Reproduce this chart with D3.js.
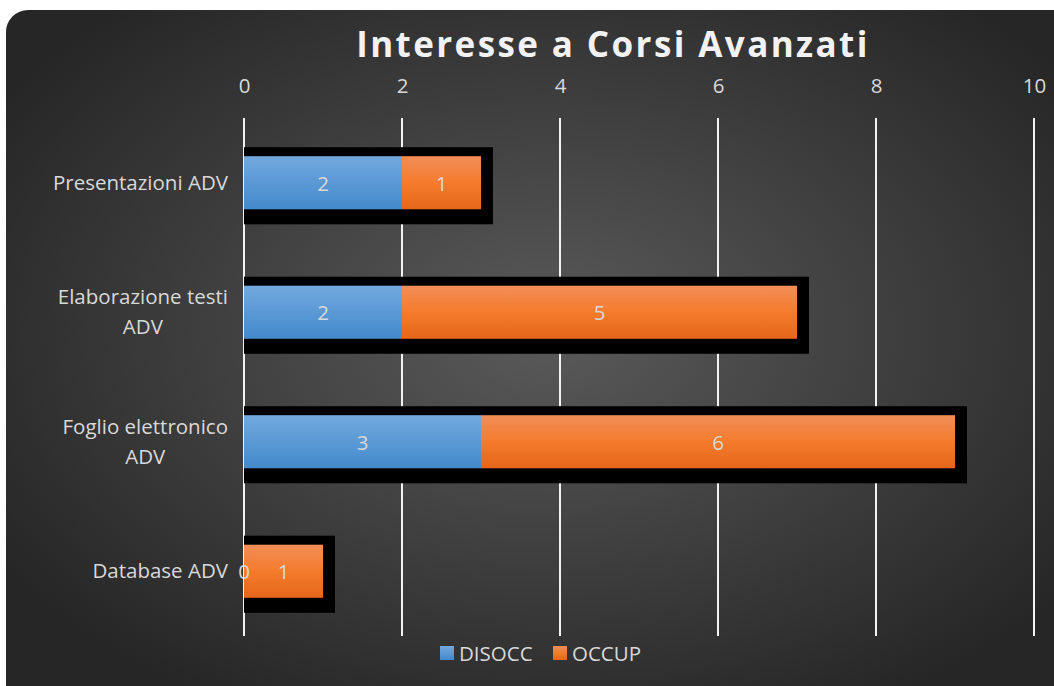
<!DOCTYPE html>
<html><head><meta charset="utf-8">
<script src="https://cdn.jsdelivr.net/npm/d3@7"></script>
<style>body{margin:0;background:#fff}svg{display:block}</style>
</head><body>
<script>
const categories = ["Presentazioni ADV", "Elaborazione testi ADV", "Foglio elettronico ADV", "Database ADV"];
const catLines = [["Presentazioni ADV"], ["Elaborazione testi", "ADV"], ["Foglio elettronico", "ADV"], ["Database ADV"]];
const disocc = [2, 2, 3, 0];
const occup = [1, 5, 6, 1];
const tickValues = [0, 2, 4, 6, 8, 10];
const seriesNames = ["DISOCC", "OCCUP"];

const W = 1054, H = 686;
const FONT = "Open Sans, sans-serif";
const FS = 20.5;
const svg = d3.select("body").append("svg").attr("width", W).attr("height", H);
const defs = svg.append("defs");
const bg = defs.append("radialGradient").attr("id", "bg").attr("cx", "50%").attr("cy", "45%").attr("r", "60%");
bg.append("stop").attr("offset", "0%").attr("stop-color", "#5a5a5a");
bg.append("stop").attr("offset", "100%").attr("stop-color", "#262626");
const gb = defs.append("linearGradient").attr("id", "gblue").attr("x1", 0).attr("y1", 0).attr("x2", 0).attr("y2", 1);
gb.append("stop").attr("offset", "0%").attr("stop-color", "#72a9df");
gb.append("stop").attr("offset", "100%").attr("stop-color", "#4389cb");
const go = defs.append("linearGradient").attr("id", "gorange").attr("x1", 0).attr("y1", 0).attr("x2", 0).attr("y2", 1);
go.append("stop").attr("offset", "0%").attr("stop-color", "#f28e59");
go.append("stop").attr("offset", "50%").attr("stop-color", "#f47b2c");
go.append("stop").attr("offset", "100%").attr("stop-color", "#e5661a");

svg.append("rect").attr("x", 6).attr("y", 10).attr("width", W + 30).attr("height", H + 30)
  .attr("rx", 22).attr("fill", "url(#bg)");

const x = d3.scaleLinear().domain([0, 10]).range([244, 1034]);
const y = d3.scaleBand().domain(categories).range([118, 636]).paddingInner(0.59).paddingOuter(0.295);

// gridlines
svg.append("g").selectAll("line").data(tickValues).join("line")
  .attr("x1", d => x(d)).attr("x2", d => x(d)).attr("y1", 118).attr("y2", 636)
  .attr("stroke", "#f2f2f2").attr("stroke-width", 2);

// top axis
const axis = d3.axisTop(x).tickValues(tickValues).tickSize(0).tickPadding(0);
const ag = svg.append("g").attr("transform", "translate(0,93)").call(axis);
ag.select(".domain").remove();
ag.selectAll("text").attr("fill", "#d9d9d9").attr("font-size", FS).attr("font-family", FONT);

// shadows
const totals = categories.map((c, i) => disocc[i] + occup[i]);
svg.append("g").selectAll("rect").data(categories).join("rect")
  .attr("x", x(0)).attr("y", d => y(d) - 9)
  .attr("width", (d, i) => x(totals[i]) - x(0) + 12)
  .attr("height", y.bandwidth() + 24).attr("fill", "#000");

// bars
const bh = y.bandwidth();
svg.append("g").selectAll("rect").data(categories).join("rect")
  .attr("x", x(0)).attr("y", d => y(d))
  .attr("width", (d, i) => x(disocc[i]) - x(0)).attr("height", bh).attr("fill", "url(#gblue)");
svg.append("g").selectAll("rect").data(categories).join("rect")
  .attr("x", (d, i) => x(disocc[i])).attr("y", d => y(d))
  .attr("width", (d, i) => x(disocc[i] + occup[i]) - x(disocc[i])).attr("height", bh).attr("fill", "url(#gorange)");

// data labels
const lblStyle = s => s.attr("fill", "#d9d9d9").attr("font-size", FS).attr("font-family", FONT)
  .attr("text-anchor", "middle").attr("dominant-baseline", "central");
svg.append("g").selectAll("text").data(categories).join("text")
  .attr("x", (d, i) => (x(0) + x(disocc[i])) / 2).attr("y", d => y(d) + bh / 2)
  .text((d, i) => disocc[i]).call(lblStyle);
svg.append("g").selectAll("text").data(categories).join("text")
  .attr("x", (d, i) => (x(disocc[i]) + x(disocc[i] + occup[i])) / 2).attr("y", d => y(d) + bh / 2)
  .text((d, i) => occup[i]).call(lblStyle);

// category labels
const cg = svg.append("g");
categories.forEach((d, i) => {
  const lines = catLines[i];
  const texts = lines.map((ln, k) => cg.append("text")
    .attr("y", y(d) + bh / 2 + (k - (lines.length - 1) / 2) * 30 + 7)
    .attr("fill", "#d9d9d9").attr("font-size", FS).attr("font-family", FONT)
    .text(ln));
  const widths = texts.map(t => t.node().getComputedTextLength());
  const maxW = Math.max(...widths);
  const cx = 228 - maxW / 2;
  texts.forEach(t => t.attr("x", cx).attr("text-anchor", "middle"));
});

// title
svg.append("text").attr("x", 613).attr("y", 57).attr("text-anchor", "middle")
  .attr("fill", "#f2f2f2").attr("font-size", 35).attr("font-weight", "bold")
  .attr("letter-spacing", 2.4).attr("font-family", FONT)
  .text("Interesse a Corsi Avanzati");

// legend
const colors = ["url(#gblue)", "url(#gorange)"];
const lx = [440, 553];
const lg = svg.append("g").selectAll("g").data(seriesNames).join("g")
  .attr("transform", (d, i) => `translate(${lx[i]},646)`);
lg.append("rect").attr("width", 14).attr("height", 14).attr("fill", (d, i) => colors[i]);
lg.append("text").attr("x", 19).attr("y", 14.5).attr("fill", "#d9d9d9").attr("font-size", FS)
  .attr("font-family", FONT).text(d => d);
</script>
</body></html>
